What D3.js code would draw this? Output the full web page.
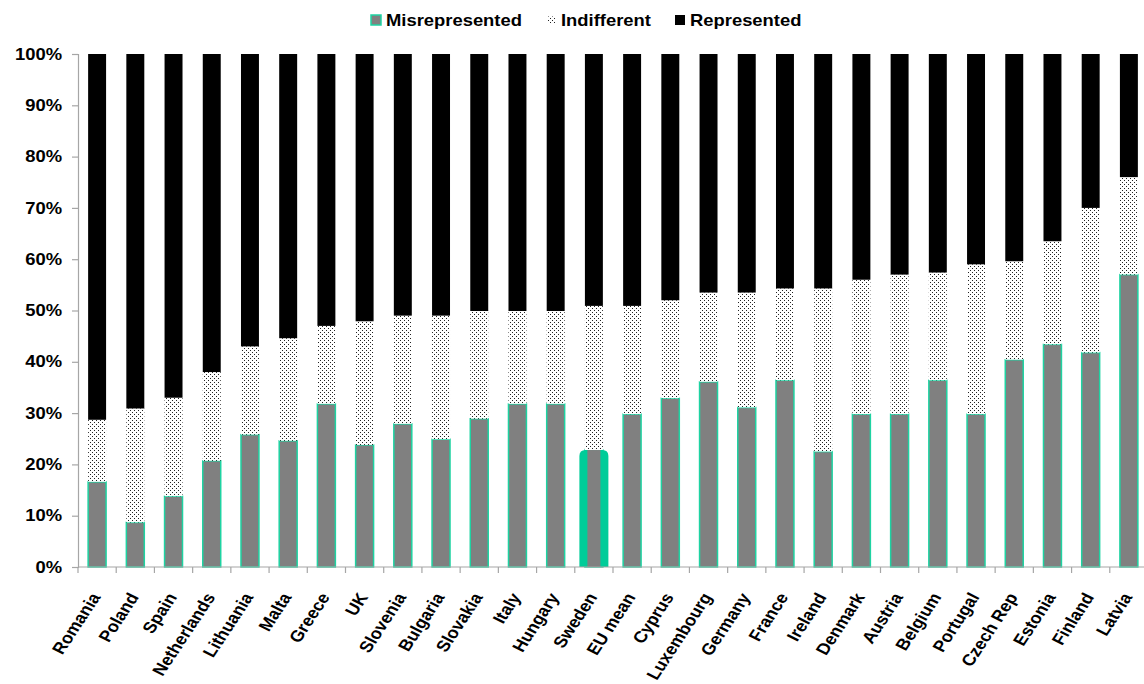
<!DOCTYPE html>
<html>
<head>
<meta charset="utf-8">
<script src="https://cdn.jsdelivr.net/npm/d3@7"></script>
<style>
  body { margin: 0; background: #fff; }
  text { font-family: "Liberation Sans", Arial, sans-serif; font-weight: bold; }
</style>
</head>
<body>
<svg id="chart"></svg>
<script>
const w = 1144;
const h = 684;

const categories = ['Romania', 'Poland', 'Spain', 'Netherlands', 'Lithuania', 'Malta', 'Greece', 'UK',
    'Slovenia', 'Bulgaria', 'Slovakia', 'Italy', 'Hungary', 'Sweden', 'EU mean', 'Cyprus', 'Luxembourg',
    'Germany', 'France', 'Ireland', 'Denmark', 'Austria', 'Belgium', 'Portugal', 'Czech Rep', 'Estonia',
    'Finland', 'Latvia'];
const misrepresented = [16.6, 8.7, 13.8, 20.7, 25.8, 24.6, 31.8, 23.8, 27.9, 24.9, 28.9, 31.8, 31.8, 22.8,
    29.8, 32.9, 36.1, 31.1, 36.4, 22.5, 29.8, 29.8, 36.4, 29.8, 40.4, 43.4, 41.8, 57.0];
const indifferent = [12.1, 22.2, 19.2, 17.3, 17.2, 20.0, 15.2, 24.1, 21.1, 24.1, 21.0, 18.1, 18.1, 28.1,
    21.1, 19.1, 17.4, 22.4, 17.9, 31.8, 26.2, 27.2, 21.0, 29.2, 19.2, 20.1, 28.2, 19.0];
const represented = [71.3, 69.1, 67.0, 62.0, 57.0, 55.4, 53.0, 52.1, 51.0, 51.0, 50.1, 50.1, 50.1, 49.1,
    49.1, 48.0, 46.5, 46.5, 45.7, 45.7, 44.0, 43.0, 42.6, 41.0, 40.4, 36.5, 30.0, 24.0];
const seriesNames = ['Misrepresented', 'Indifferent', 'Represented'];
const yTicks = [0, 10, 20, 30, 40, 50, 60, 70, 80, 90, 100];
const highlight = 'Sweden';

const teal = '#1ed3a2';
const stretch = 1.15; // the text in the picture is a little wider than tall

const rows = categories.map((c, i) => ({
    country: c,
    Misrepresented: misrepresented[i],
    Indifferent: indifferent[i],
    Represented: represented[i]
}));

const svg = d3.select('#chart')
    .attr('width', w)
    .attr('height', h);

// dotted fill for the middle series
const defs = svg.append('defs');
const pat = defs.append('pattern')
    .attr('id', 'dots')
    .attr('patternUnits', 'userSpaceOnUse')
    .attr('width', 4)
    .attr('height', 4);
pat.append('rect').attr('width', 4).attr('height', 4).attr('fill', '#fff');
pat.append('rect').attr('x', 0).attr('y', 0).attr('width', 1).attr('height', 1).attr('fill', '#222');
pat.append('rect').attr('x', 2).attr('y', 2).attr('width', 1).attr('height', 1).attr('fill', '#222');

const fills = {
    Misrepresented: '#808080',
    Indifferent: 'url(#dots)',
    Represented: '#000'
};

const xScale = d3.scaleBand()
    .domain(categories)
    .range([78, 1148])
    .paddingInner(0.53)
    .paddingOuter(0.265);
const yScale = d3.scaleLinear()
    .domain([0, 100])
    .range([567, 54]);

const stack = d3.stack().keys(seriesNames);
const layers = stack(rows);

const g = svg.append('g');

layers.forEach(layer => {
    const key = layer.key;
    g.selectAll(null)
        .data(layer)
        .enter()
        .append('rect')
        .attr('x', d => xScale(d.data.country))
        .attr('y', d => yScale(d[1]))
        .attr('width', xScale.bandwidth())
        .attr('height', d => yScale(d[0]) - yScale(d[1]))
        .attr('fill', fills[key])
        .attr('stroke', key === 'Misrepresented' ? teal : 'none')
        .attr('stroke-width', 1.5);
});

// highlighted bar: thick rounded teal frame
const hl = layers[0].find(d => d.data.country === highlight);
if (hl) {
    const cx = xScale(hl.data.country) + xScale.bandwidth() / 2;
    const x0 = cx - 14.5, x1 = cx + 14.5;
    const yt = yScale(hl[1]), yb = yScale(0);
    const r = 6;
    const p = d3.path();
    p.moveTo(x0, yb);
    p.lineTo(x0, yt + r);
    p.quadraticCurveTo(x0, yt, x0 + r, yt);
    p.lineTo(x1 - r, yt);
    p.quadraticCurveTo(x1, yt, x1, yt + r);
    p.lineTo(x1, yb);
    p.closePath();
    g.append('path').attr('d', p.toString()).attr('fill', '#00cc99');
    g.append('rect')
        .attr('x', cx - 6.5)
        .attr('y', yt)
        .attr('width', 13)
        .attr('height', yb - yt)
        .attr('fill', '#808080');
}

// y axis
const yAxis = d3.axisLeft(yScale)
    .tickValues(yTicks)
    .tickSize(6)
    .tickPadding(10)
    .tickFormat(d => d + '%');
const ya = svg.append('g')
    .attr('transform', 'translate(78,0)')
    .call(yAxis);
ya.select('.domain').attr('stroke', '#a6a6a6').attr('stroke-width', 1.2);
ya.selectAll('.tick line').attr('stroke', '#a6a6a6').attr('stroke-width', 1.2);
ya.selectAll('.tick text')
    .attr('font-size', 16)
    .attr('fill', '#000')
    .attr('x', -16 / stretch)
    .attr('transform', `scale(${stretch},1)`)
    .style('font-family', '"Liberation Sans", Arial, sans-serif')
    .style('font-weight', 'bold');

// x axis line with ticks between categories
const xa = svg.append('g');
xa.append('line')
    .attr('x1', 78).attr('x2', w)
    .attr('y1', yScale(0)).attr('y2', yScale(0))
    .attr('stroke', '#a6a6a6').attr('stroke-width', 1.2);
const step = xScale.step();
xa.selectAll('.xtick')
    .data(categories)
    .enter()
    .append('line')
    .attr('x1', d => xScale(d) + xScale.bandwidth() / 2 - step / 2)
    .attr('x2', d => xScale(d) + xScale.bandwidth() / 2 - step / 2)
    .attr('y1', yScale(0))
    .attr('y2', yScale(0) + 6)
    .attr('stroke', '#a6a6a6').attr('stroke-width', 1.2);

xa.selectAll('.xlabel')
    .data(categories)
    .enter()
    .append('text')
    .attr('text-anchor', 'end')
    .attr('font-size', 16)
    .attr('transform', d => `translate(${xScale(d) + xScale.bandwidth() / 2 + 4},${yScale(0) + 30}) scale(${stretch},1) rotate(-60)`)
    .text(d => d);

// legend
const legendX = [371, 548, 675];
const legendText = [386, 561, 690];
const legend = svg.append('g');
seriesNames.forEach((name, i) => {
    const sq = i === 1 ? 7 : 10;
    legend.append('rect')
        .attr('x', legendX[i])
        .attr('y', 20 - sq / 2)
        .attr('width', sq)
        .attr('height', sq)
        .attr('fill', fills[name])
        .attr('stroke', name === 'Misrepresented' ? teal : 'none')
        .attr('stroke-width', 1.5);
    legend.append('text')
        .attr('transform', `translate(${legendText[i]},25.5) scale(${stretch},1)`)
        .attr('font-size', 16)
        .text(name);
});
</script>
</body>
</html>
